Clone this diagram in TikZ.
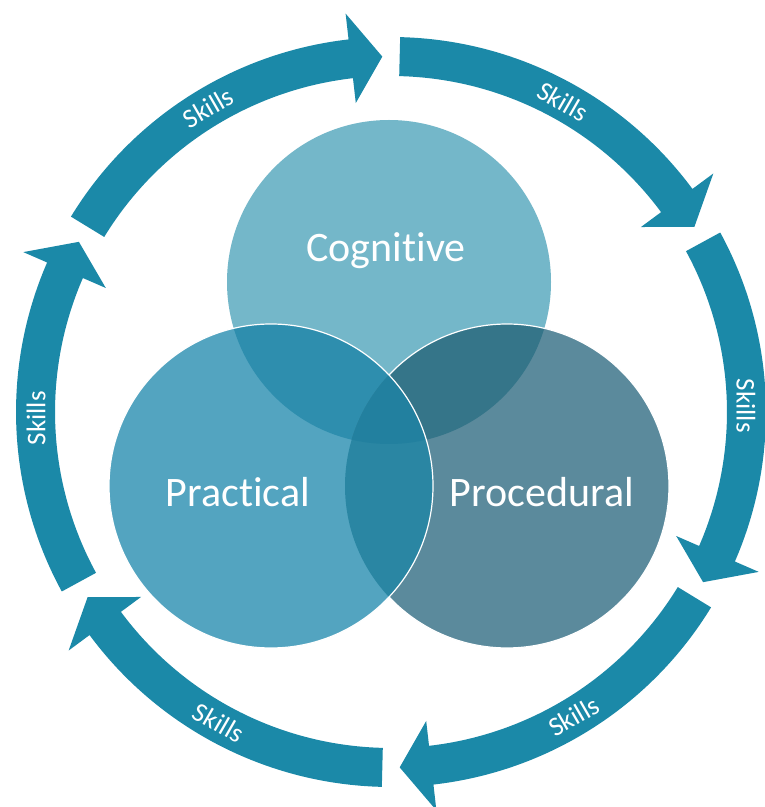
\documentclass[tikz,border=0pt]{standalone}
\usepackage{fontspec}
\setmainfont{Carlito}[Ligatures={NoCommon}]
\usetikzlibrary{calc}
\definecolor{ringblue}{HTML}{1B89A8}
\definecolor{cogcol}{HTML}{74B7C9}
\definecolor{praccol}{HTML}{53A4C0}
\definecolor{proccol}{HTML}{5B8A9C}
\definecolor{cogprac}{HTML}{2E8EAE}
\definecolor{cogproc}{HTML}{357589}
\definecolor{pracproc}{HTML}{2A86A3}
\definecolor{allthree}{HTML}{22809F}
\tikzset{
	ringtext/.style={text=white, font=\fontsize{27}{32}\selectfont, inner sep=0pt},
	venntext/.style={text=white, font=\fontsize{42}{50}\selectfont, anchor=base, inner sep=0pt},
	rim/.style={draw=white, line width=1.2pt}
}
\def\ringarrow(#1:#2){\fill[ringblue] (#1:375) arc[start angle=#1, end angle=#2+5.1, radius=375] -- (#2+5.1:401) -- (#2:355.5) -- (#2+5.1:311) -- (#2+5.1:336) arc[start angle=#2+5.1, end angle=#1, radius=336] -- cycle;}

\begin{document}
\begin{tikzpicture}[x=1pt, y=1pt]
			%%%%% START %%%%%
			
			\fill[white] (0, 0) rectangle (765, 807);
			\useasboundingbox (0, 0) rectangle (765, 807);
			
			\coordinate (cogc) at (389, 525);
			\coordinate (pracc) at (271, 321);
			\coordinate (procc) at (507, 321);
			
			\fill[cogcol] (cogc) circle (162);
			\fill[proccol] (procc) circle (162);
			\fill[praccol] (pracc) circle (162);
			
			\begin{scope}
				\clip (cogc) circle (162);
				\fill[cogprac] (pracc) circle (162);
				\fill[cogproc] (procc) circle (162);
			\end{scope}
			\begin{scope}
				\clip (pracc) circle (162);
				\fill[pracproc] (procc) circle (162);
				\clip (procc) circle (162);
				\fill[allthree] (cogc) circle (162);
			\end{scope}
			
			\draw[rim] ($(procc)+(136.75:162)$) arc[start angle=136.75, end angle=-136.75, radius=162];
			\draw[rim] (pracc) circle (162);
			
			\node[venntext] (cognitive) at (386, 545) {Cognitive};
			\node[venntext] (practical) at (238, 300) {Practical};
			\node[venntext] (procedural) at (542, 300) {Procedural};
			
			\begin{scope}[shift={(391, 395)}]
				\foreach \g/\r [count=\i] in {150/30, 90/-30, 30/-90, -30/30, -90/-30, -150/90}{
					\ringarrow(\g-1.4:\g-58.6)
					\node[ringtext, rotate=\r] (skills\i) at (\g-29:355) {Skills};
				}
			\end{scope}
			
			%%%%% END %%%%%
\end{tikzpicture}
\end{document}
